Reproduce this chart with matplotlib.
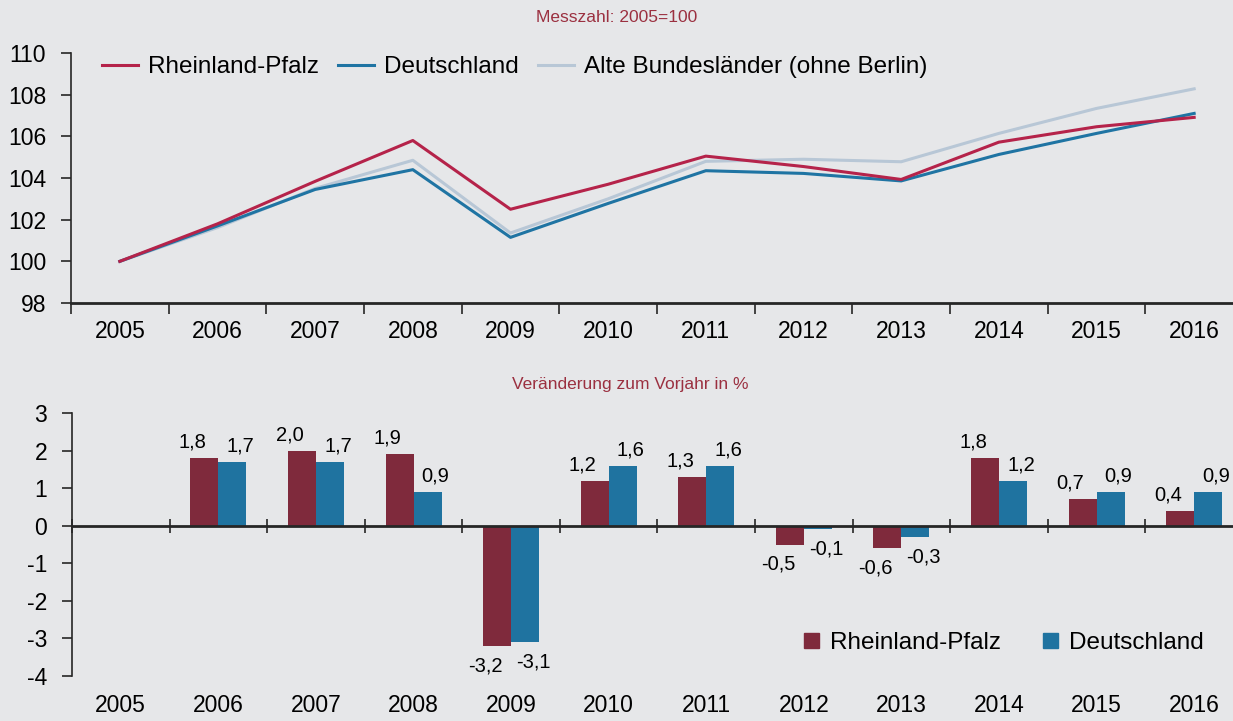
import matplotlib
matplotlib.use("Agg")
import matplotlib.pyplot as plt
import numpy as np
from matplotlib.transforms import blended_transform_factory, offset_copy
from matplotlib.lines import Line2D
from matplotlib.patches import Patch

plt.rcParams['font.family'] = ['Liberation Sans', 'DejaVu Sans']
plt.rcParams['axes.unicode_minus'] = False

years = ['2005', '2006', '2007', '2008', '2009', '2010', '2011', '2012', '2013', '2014', '2015', '2016']

# Index 2005 = 100
idx_rp = [100.0, 101.8, 103.84, 105.8, 102.5, 103.7, 105.05, 104.55, 103.93, 105.72, 106.46, 106.91]
idx_de = [100.0, 101.7, 103.45, 104.4, 101.15, 102.78, 104.35, 104.22, 103.86, 105.13, 106.14, 107.1]
idx_abl = [100.0, 101.62, 103.5, 104.85, 101.36, 103.0, 104.8, 104.9, 104.78, 106.14, 107.34, 108.28]

# Change vs previous year in %
chg_rp = [np.nan, 1.8, 2.0, 1.9, -3.2, 1.2, 1.3, -0.5, -0.6, 1.8, 0.7, 0.4]
chg_de = [np.nan, 1.7, 1.7, 0.9, -3.1, 1.6, 1.6, -0.1, -0.3, 1.2, 0.9, 0.9]

BG = '#e6e7e9'
C_RP_LINE = '#b5234a'
C_DE_LINE = '#1f74a3'
C_ABL_LINE = '#b8c7d6'
C_RP_BAR = '#7f2a3c'
C_DE_BAR = '#1f73a0'
C_TITLE = '#9b3040'
C_AX = '#262626'

W, H = 1233, 721
fig = plt.figure(figsize=(W / 100, H / 100), dpi=100, facecolor=BG)

x = np.arange(len(years))

# ---------------- Top chart ----------------
ax1 = fig.add_axes([71 / W, 1 - 303 / H, 1172 / W, 250 / H])
ax1.set_facecolor(BG)
ax1.plot(x, idx_abl, color=C_ABL_LINE, lw=2.2, zorder=2)
ax1.plot(x, idx_de, color=C_DE_LINE, lw=2.2, zorder=3)
ax1.plot(x, idx_rp, color=C_RP_LINE, lw=2.2, zorder=4)
ax1.set_xlim(-0.5, len(years) - 0.5)
ax1.set_ylim(98, 110)
ax1.set_yticks(np.arange(98, 111, 2))
ax1.set_xticks(np.arange(-0.5, len(years), 1.0))
ax1.set_xticklabels([])
ax1.set_xticks(x, minor=True)
ax1.set_xticklabels(years, minor=True)
ax1.tick_params(axis='x', which='minor', length=0, pad=12, labelsize=16.5, colors='black')
ax1.tick_params(axis='x', which='major', length=8, width=1.2, direction='out', color=C_AX)
ax1.tick_params(axis='y', length=7, width=1.2, direction='out', color=C_AX, labelsize=16.5, pad=11)
for s in ['top', 'right']:
    ax1.spines[s].set_visible(False)
ax1.spines['left'].set_color(C_AX)
ax1.spines['left'].set_linewidth(1.2)
ax1.spines['bottom'].set_color(C_AX)
ax1.spines['bottom'].set_linewidth(2.0)

handles = [Line2D([], [], color=C_RP_LINE, lw=2.2),
           Line2D([], [], color=C_DE_LINE, lw=2.2),
           Line2D([], [], color=C_ABL_LINE, lw=2.2)]
ax1.legend(handles, ['Rheinland-Pfalz', 'Deutschland', 'Alte Bundesländer (ohne Berlin)'],
           ncol=3, loc='upper left', bbox_to_anchor=(0.012, 1.055), frameon=False,
           fontsize=17.5, handlelength=1.48, handletextpad=0.41, columnspacing=0.78,
           borderaxespad=0.3)

fig.text(617 / W, 1 - 18 / H, 'Messzahl: 2005=100', ha='center', va='center',
         fontsize=12.5, color=C_TITLE)

# ---------------- Bottom chart ----------------
ax2 = fig.add_axes([72 / W, 1 - 676 / H, 1171 / W, 263 / H])
ax2.set_facecolor(BG)
bw = 0.287
ax2.bar(x - bw / 2, chg_rp, width=bw, color=C_RP_BAR, zorder=2)
ax2.bar(x + bw / 2, chg_de, width=bw, color=C_DE_BAR, zorder=2)
ax2.set_xlim(-0.5, len(years) - 0.5)
ax2.set_ylim(-4, 3)
ax2.set_yticks(np.arange(-4, 4, 1))
ax2.set_xticks(np.arange(-0.5, len(years), 1.0))
ax2.set_xticklabels([])
ax2.tick_params(axis='x', length=10, width=1.2, direction='inout', color=C_AX)
ax2.tick_params(axis='y', length=7, width=1.2, direction='out', color=C_AX, labelsize=16.5, pad=11)
for s in ['top', 'right']:
    ax2.spines[s].set_visible(False)
ax2.spines['bottom'].set_position(('data', 0))
ax2.spines['bottom'].set_color(C_AX)
ax2.spines['bottom'].set_linewidth(2.0)
ax2.spines['left'].set_color(C_AX)
ax2.spines['left'].set_linewidth(1.2)

trans = blended_transform_factory(ax2.transData, ax2.transAxes)
for xi, yr in zip(x, years):
    ax2.text(xi, 0, yr, transform=offset_copy(trans, fig=fig, x=0, y=-30, units='dots'),
             ha='center', va='center', fontsize=16.5)

def fmt(v):
    return f'{v:.1f}'.replace('.', ',')

for xi, v in zip(x, chg_rp):
    if np.isnan(v):
        continue
    dy = 16 if v >= 0 else -20
    ax2.text(xi - bw / 2, v, fmt(v),
             transform=offset_copy(ax2.transData, fig=fig, x=-12, y=dy, units='dots'),
             ha='center', va='center', fontsize=14.5)
for xi, v in zip(x, chg_de):
    if np.isnan(v):
        continue
    dy = 16 if v >= 0 else -20
    ax2.text(xi + bw / 2, v, fmt(v),
             transform=offset_copy(ax2.transData, fig=fig, x=8, y=dy, units='dots'),
             ha='center', va='center', fontsize=14.5)

ax2.legend([Patch(color=C_RP_BAR), Patch(color=C_DE_BAR)], ['Rheinland-Pfalz', 'Deutschland'],
           ncol=2, loc='lower right', bbox_to_anchor=(0.985, 0.0), frameon=False,
           fontsize=17.5, handlelength=0.6, handleheight=0.6, handletextpad=0.45,
           columnspacing=1.75)

fig.text(630 / W, 1 - 384 / H, 'Veränderung zum Vorjahr in %', ha='center', va='center',
         fontsize=12.5, color=C_TITLE)

fig.savefig('out.png', dpi=100, facecolor=BG)
